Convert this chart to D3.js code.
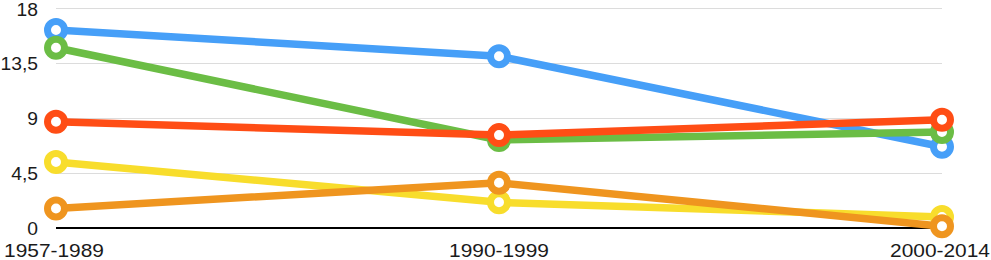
<!DOCTYPE html>
<html><head><meta charset="utf-8">
<script src="https://cdn.jsdelivr.net/npm/d3@7"></script>
<style>html,body{margin:0;padding:0;background:#fff;overflow:hidden}</style>
</head><body>
<svg id="c" width="991" height="260"></svg>
<script>
const categories = ["1957-1989", "1990-1999", "2000-2014"];
const yTicks = [0, 4.5, 9, 13.5, 18];
const tickLabels = ["0", "4,5", "9", "13,5", "18"];
const blueValues = [16.2, 14.05, 6.65];
const greenValues = [14.75, 7.2, 7.85];
const yellowValues = [5.4, 2.1, 0.9];
const orangeValues = [1.6, 3.7, 0.15];
const redValues = [8.7, 7.6, 8.85];
const seriesNames = ["blue", "green", "yellow", "orange", "red"];
const seriesColors = ["#469ff8", "#6bbd45", "#f8dd2c", "#ef951f", "#ff4d15"];
const seriesValues = [blueValues, greenValues, yellowValues, orangeValues, redValues];

const svg = d3.select("#c");
const x = d3.scalePoint().domain(categories).range([56, 942]);
const y = d3.scaleLinear().domain([0, 18]).range([228, 8]);
const font = "Liberation Sans, Arial, sans-serif";

function widen(stretch) {
  return sel => sel.each(function() {
    const w = this.getComputedTextLength();
    d3.select(this).attr("textLength", w * stretch).attr("lengthAdjust", "spacingAndGlyphs");
  });
}

// gridlines
svg.append("g").selectAll("line").data(yTicks.filter(d => d > 0)).join("line")
  .attr("x1", 56).attr("x2", 942)
  .attr("y1", d => Math.round(y(d)) + 0.5).attr("y2", d => Math.round(y(d)) + 0.5)
  .attr("stroke", "#dcdcdc").attr("stroke-width", 1);

// y labels
const yAxis = d3.axisLeft(y).tickValues(yTicks).tickFormat((d, i) => tickLabels[i]).tickSize(0).tickPadding(0);
const gy = svg.append("g").attr("transform", "translate(38,0)").call(yAxis);
gy.select(".domain").remove();
gy.selectAll("text").attr("font-family", font)
  .attr("font-size", 18).attr("fill", "#1a1a1a").attr("dy", "0.36em").attr("x", 0)
  .call(widen(1.07));
gy.selectAll(".tick").filter(d => d === 18).select("text").attr("dy", "0.42em");

// x axis line
svg.append("line").attr("x1", 56).attr("x2", 942).attr("y1", y(0)).attr("y2", y(0))
  .attr("stroke", "#000").attr("stroke-width", 2);

// x labels
const xAxis = d3.axisBottom(x).tickSize(0).tickPadding(0);
const gx = svg.append("g").call(xAxis);
gx.select(".domain").remove();
gx.selectAll(".tick").attr("transform", d => {
  let px = x(d);
  if (d === categories[0]) px = 54;
  if (d === categories[2]) px = 940;
  return `translate(${px},0)`;
});
gx.selectAll("text").attr("font-family", font)
  .attr("font-size", 18.5).attr("fill", "#1a1a1a").attr("dy", 0).attr("y", 257)
  .attr("text-anchor", "middle")
  .call(widen(1.13));

// series
const line = d3.line().x((d, i) => x(categories[i])).y(d => y(d));
seriesValues.forEach((vals, si) => {
  const g = svg.append("g").attr("class", "series-" + seriesNames[si]);
  g.append("path").datum(vals).attr("d", line).attr("fill", "none")
    .attr("stroke", seriesColors[si]).attr("stroke-width", 7.5)
    .attr("stroke-linejoin", "round");
  g.selectAll("circle").data(vals).join("circle")
    .attr("cx", (d, i) => x(categories[i])).attr("cy", d => y(d))
    .attr("r", 8.5).attr("fill", "#fff")
    .attr("stroke", seriesColors[si]).attr("stroke-width", 7);
});
</script>
</body></html>
